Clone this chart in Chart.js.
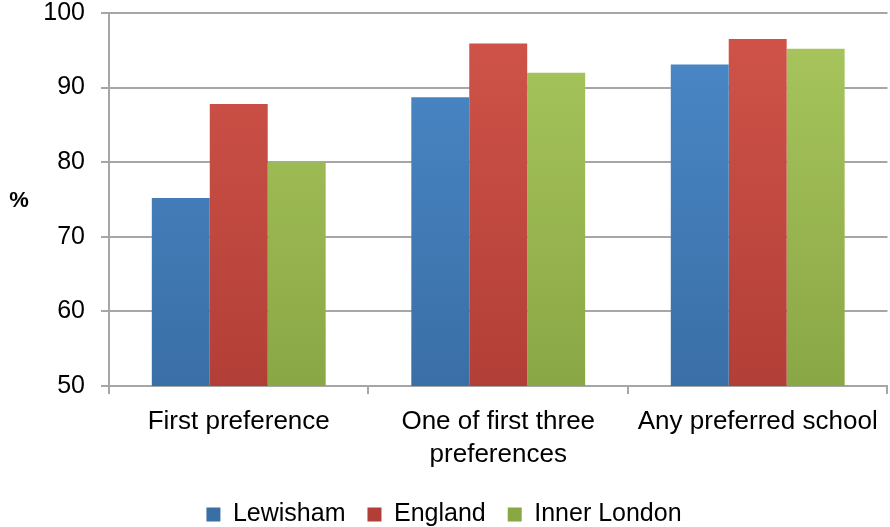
<!DOCTYPE html>
<html>
<head>
<meta charset="utf-8">
<script src="https://cdn.jsdelivr.net/npm/chart.js@4.4.1/dist/chart.umd.min.js"></script>
<style>
  html, body { margin: 0; padding: 0; background: #fff; }
  #wrap { width: 890px; height: 527px; }
</style>
</head>
<body>
<div id="wrap"><canvas id="admissionsChart"></canvas></div>
<script>
// Chart Data
const categories = ['First preference', ['One of first three', 'preferences'], 'Any preferred school'];
const lewisham = [75.2, 88.7, 93.1];
const england = [87.8, 95.9, 96.5];
const innerLondon = [80.0, 92.0, 95.2];
const yTicks = [50, 60, 70, 80, 90, 100];

// Excel-ish vertical gradient for each series
function barGradient(top, bottom) {
    return function (ctx) {
        const area = ctx.chart.chartArea;
        if (!area) return top;
        const g = ctx.chart.ctx.createLinearGradient(0, area.top, 0, area.bottom);
        g.addColorStop(0, top);
        g.addColorStop(1, bottom);
        return g;
    };
}

// Horizontal "%" axis title
const percentTitle = {
    id: 'percentTitle',
    afterDraw(chart) {
        const c = chart.ctx;
        const y = chart.scales.y;
        c.save();
        c.font = 'bold 22px "Liberation Sans", Arial, sans-serif';
        c.fillStyle = '#000';
        c.textAlign = 'center';
        c.textBaseline = 'middle';
        c.fillText('%', 19, (y.top + y.bottom) / 2 + 1);
        c.restore();
    }
};

const family = '"Liberation Sans", Arial, sans-serif';

const ctx = document.getElementById('admissionsChart').getContext('2d');
new Chart(ctx, {
    type: 'bar',
    data: {
        labels: categories,
        datasets: [
            {
                label: 'Lewisham',
                data: lewisham,
                backgroundColor: barGradient('#4b89c9', '#3a6fa6')
            },
            {
                label: 'England',
                data: england,
                backgroundColor: barGradient('#d1544a', '#b23f37')
            },
            {
                label: 'Inner London',
                data: innerLondon,
                backgroundColor: barGradient('#a9c75d', '#8aa746')
            }
        ]
    },
    options: {
        responsive: true,
        maintainAspectRatio: false,
        animation: false,
        layout: {
            padding: { top: 13, right: 2, left: 0, bottom: -10 }
        },
        datasets: {
            bar: {
                categoryPercentage: 0.67,
                barPercentage: 1.0
            }
        },
        plugins: {
            legend: {
                position: 'bottom',
                labels: {
                    font: { family: family, size: 25 },
                    color: '#000',
                    boxWidth: 14,
                    boxHeight: 14,
                    padding: 22
                }
            },
            tooltip: { enabled: false }
        },
        scales: {
            y: {
                min: 50,
                max: 100,
                afterFit(scale) {
                    scale.width = 109;
                    scale.paddingTop = 0;
                    scale.paddingBottom = 0;
                },
                afterBuildTicks(scale) { scale.ticks = yTicks.map(v => ({ value: v })); },
                ticks: {
                    font: { family: family, size: 25 },
                    color: '#000',
                    padding: 16
                },
                grid: {
                    color: '#a6a6a6',
                    lineWidth: 2,
                    tickLength: 8
                },
                border: { color: '#a6a6a6', width: 2 }
            },
            x: {
                afterFit(scale) { scale.height -= 3; },
                ticks: {
                    font: { family: family, size: 26, lineHeight: 1.25 },
                    color: '#000',
                    padding: 12
                },
                grid: {
                    drawOnChartArea: false,
                    color: '#a6a6a6',
                    lineWidth: 2,
                    tickLength: 8
                },
                border: { color: '#a6a6a6', width: 2 }
            }
        }
    },
    plugins: [percentTitle]
});
</script>
</body>
</html>
